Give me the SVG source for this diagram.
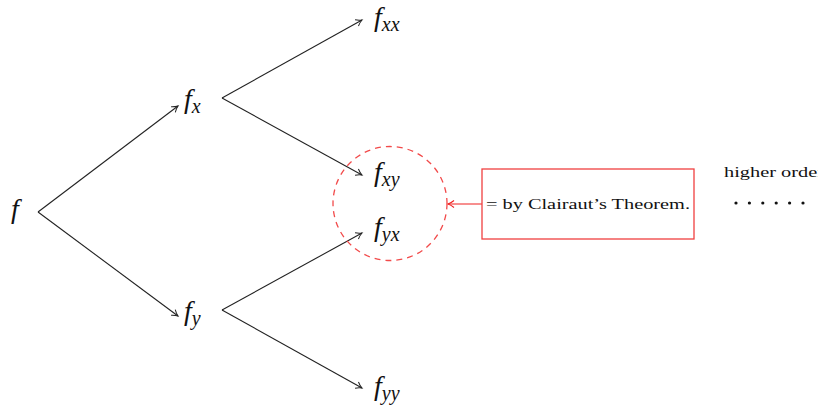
<svg xmlns="http://www.w3.org/2000/svg" width="818" height="407" viewBox="0 0 818 407">
<defs>
<style>
.m{font-family:"Liberation Serif","DejaVu Serif",serif;font-style:italic;font-size:28px;fill:#111}
.s{font-size:20px}
.e{stroke:#222;stroke-width:1.1;fill:none}
.r{stroke:#f02020;stroke-width:1.2;fill:none}
.t{font-family:"Liberation Serif","DejaVu Serif",serif;font-size:15px;fill:#111}
</style>
<marker id="ah" markerWidth="10" markerHeight="10" refX="8" refY="5" orient="auto" markerUnits="userSpaceOnUse">
<path d="M2,1.5 Q5,4 8,5 Q5,6 2,8.5" fill="none" stroke="#222" stroke-width="1"/>
</marker>
<marker id="ahr" markerWidth="10" markerHeight="10" refX="8" refY="5" orient="auto" markerUnits="userSpaceOnUse">
<path d="M2,1.5 Q5,4 8,5 Q5,6 2,8.5" fill="none" stroke="#f02020" stroke-width="1.1"/>
</marker>
</defs>
<rect width="818" height="407" fill="#fff"/>
<g id="connectors">
<line class="e" x1="38" y1="212" x2="178" y2="106" marker-end="url(#ah)"/>
<line class="e" x1="38" y1="212" x2="178" y2="316" marker-end="url(#ah)"/>
<line class="e" x1="222" y1="98" x2="362" y2="20" marker-end="url(#ah)"/>
<line class="e" x1="222" y1="98" x2="362" y2="175" marker-end="url(#ah)"/>
<line class="e" x1="222" y1="310" x2="362" y2="233" marker-end="url(#ah)"/>
<line class="e" x1="222" y1="310" x2="362" y2="388" marker-end="url(#ah)"/>
<line class="r" x1="482" y1="204" x2="448" y2="204" marker-end="url(#ahr)"/>
</g>
<g id="n-f"><text class="m" x="11" y="218">f</text></g>
<g id="n-fx"><text class="m" x="184" y="108">f<tspan class="s" dy="5">x</tspan></text></g>
<g id="n-fy"><text class="m" x="184" y="320">f<tspan class="s" dy="5">y</tspan></text></g>
<g id="n-fxx"><text class="m" x="374" y="26">f<tspan class="s" dy="5">xx</tspan></text></g>
<g id="n-fxy"><text class="m" x="374" y="181">f<tspan class="s" dy="5">xy</tspan></text></g>
<g id="n-fyx"><text class="m" x="374" y="236">f<tspan class="s" dy="5">yx</tspan></text></g>
<g id="n-fyy"><text class="m" x="374" y="395">f<tspan class="s" dy="5">yy</tspan></text></g>
<g id="n-circle"><circle cx="390" cy="203.5" r="57" fill="none" stroke="#f24a4a" stroke-width="1.3" stroke-dasharray="6,5"/></g>
<g id="n-clairaut">
<rect x="482" y="169" width="212" height="70" fill="none" stroke="#f04040" stroke-width="1.3"/>
<text class="t" x="486" y="209" textLength="204" lengthAdjust="spacingAndGlyphs">= by Clairaut’s Theorem.</text>
</g>
<g id="n-higher">
<text class="t" x="724" y="177" textLength="100" lengthAdjust="spacingAndGlyphs">higher order</text>
<g fill="#111">
<circle cx="736" cy="203" r="1.6"/><circle cx="749.4" cy="203" r="1.6"/><circle cx="762.8" cy="203" r="1.6"/>
<circle cx="776.2" cy="203" r="1.6"/><circle cx="789.6" cy="203" r="1.6"/><circle cx="803" cy="203" r="1.6"/>
</g>
</g>
</svg>
